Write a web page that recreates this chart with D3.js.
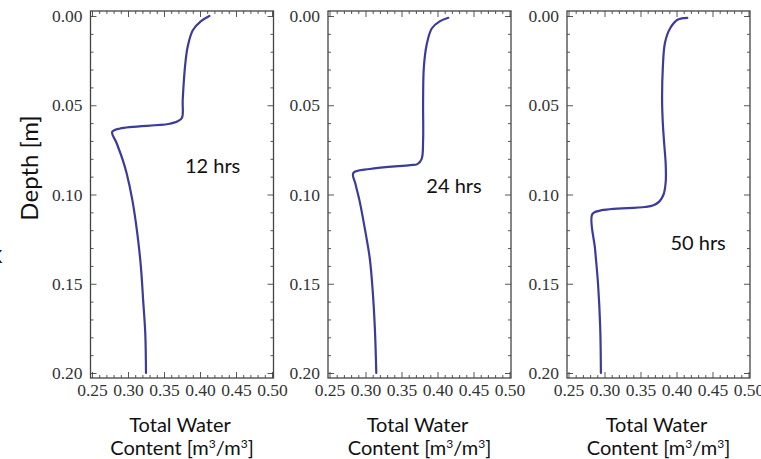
<!DOCTYPE html>
<html>
<head>
<meta charset="utf-8">
<script src="https://cdn.jsdelivr.net/npm/d3@7"></script>
<style>
  body { margin: 0; background: #fff; }
  svg { display: block; }
</style>
</head>
<body>
<div id="chart"></div>
<script>
// water content profiles
const labels = ["12 hrs", "24 hrs", "50 hrs"]

const depth12 = [0.000, 0.003, 0.008, 0.017, 0.029, 0.047, 0.057, 0.059, 0.0605, 0.063, 0.065, 0.071, 0.081, 0.088, 0.103, 0.122, 0.141, 0.159, 0.178, 0.200]
const theta12 = [0.413, 0.401, 0.390, 0.383, 0.379, 0.376, 0.375, 0.369, 0.356, 0.289, 0.278, 0.284, 0.293, 0.298, 0.306, 0.313, 0.318, 0.321, 0.324, 0.325]

const depth24 = [0.001, 0.003, 0.007, 0.016, 0.029, 0.048, 0.070, 0.080, 0.083, 0.0835, 0.0857, 0.088, 0.094, 0.104, 0.119, 0.136, 0.154, 0.175, 0.200]
const theta24 = [0.415, 0.403, 0.392, 0.385, 0.381, 0.380, 0.380, 0.378, 0.372, 0.362, 0.306, 0.283, 0.286, 0.292, 0.299, 0.306, 0.310, 0.313, 0.315]

const depth50 = [0.001, 0.002, 0.007, 0.015, 0.029, 0.047, 0.060, 0.072, 0.083, 0.093, 0.100, 0.104, 0.106, 0.107, 0.109, 0.111, 0.131, 0.150, 0.174, 0.200]
const theta50 = [0.415, 0.402, 0.391, 0.384, 0.381, 0.380, 0.381, 0.383, 0.385, 0.385, 0.382, 0.376, 0.368, 0.356, 0.294, 0.283, 0.287, 0.291, 0.294, 0.295]

const xTicks = [0.25, 0.30, 0.35, 0.40, 0.45, 0.50]
const yTicks = [0.00, 0.05, 0.10, 0.15, 0.20]

const series = [
    { depth: depth12, theta: theta12, label: labels[0] },
    { depth: depth24, theta: theta24, label: labels[1] },
    { depth: depth50, theta: theta50, label: labels[2] }
]

const width = 761, height = 459
const panelLeft = [90.5, 328, 567]
const panelW = 183, panelTop = 11, panelH = 367
// where the label sits inside each panel (data units)
const labelPos = [[0.4175, 0.088], [0.423, 0.099], [0.43, 0.131]]

const svg = d3.select("#chart")
    .append("svg")
    .attr("width", width)
    .attr("height", height)

const minorX = d3.range(0.25, 0.5001, 0.01).filter(v => Math.abs(v * 20 - Math.round(v * 20)) > 1e-6)
const minorY = d3.range(0, 0.2001, 0.01).filter(v => Math.abs(v * 20 - Math.round(v * 20)) > 1e-6)

series.forEach(function (s, i) {
    const g = svg.append("g")
        .attr("transform", `translate(${panelLeft[i]},${panelTop})`)

    const x = d3.scaleLinear().domain([0.25, 0.50]).range([1.5, panelW - 1.5])
    const y = d3.scaleLinear().domain([0, 0.20]).range([5, panelH - 5])

    // ticks, pointing inward on every side
    const addAxis = function (axis, tx, ty, cls) {
        const a = g.append("g")
            .attr("class", cls)
            .attr("transform", `translate(${tx},${ty})`)
            .call(axis)
        a.select(".domain").remove()
        a.selectAll("line").attr("stroke", "#444").attr("stroke-width", 0.9)
        a.selectAll("text")
            .style("font-family", "'Liberation Serif', 'Times New Roman', serif")
            .style("font-size", "17.5px")
            .attr("fill", "#333")
        return a
    }

    addAxis(d3.axisBottom(x).tickValues(xTicks).tickSize(-6).tickPadding(6).tickFormat(d3.format(".2f")), 0, panelH, "xb")
    addAxis(d3.axisBottom(x).tickValues(minorX).tickSize(-3).tickFormat(""), 0, panelH, "xbm")
    addAxis(d3.axisTop(x).tickValues(xTicks).tickSize(-6).tickFormat(""), 0, 0, "xt")
    addAxis(d3.axisTop(x).tickValues(minorX).tickSize(-3).tickFormat(""), 0, 0, "xtm")
    addAxis(d3.axisLeft(y).tickValues(yTicks).tickSize(-6).tickPadding(8).tickFormat(d3.format(".2f")), 0, 0, "yl")
    addAxis(d3.axisLeft(y).tickValues(minorY).tickSize(-3).tickFormat(""), 0, 0, "ylm")
    addAxis(d3.axisRight(y).tickValues(yTicks).tickSize(-6).tickFormat(""), panelW, 0, "yr")
    addAxis(d3.axisRight(y).tickValues(minorY).tickSize(-3).tickFormat(""), panelW, 0, "yrm")

    // frame
    g.append("rect")
        .attr("width", panelW)
        .attr("height", panelH)
        .attr("fill", "none")
        .attr("stroke", "#444")
        .attr("stroke-width", 1.3)

    const pts = s.depth.map((d, k) => [s.theta[k], d])
    const line = d3.line()
        .x(d => x(d[0]))
        .y(d => y(d[1]))
        .curve(d3.curveCatmullRom.alpha(0.5))

    g.append("path")
        .datum(pts)
        .attr("d", line)
        .attr("fill", "none")
        .attr("stroke", "#3b3b9b")
        .attr("stroke-width", 2.2)
        .attr("stroke-linejoin", "round")
        .attr("stroke-linecap", "round")

    g.append("text")
        .attr("x", x(labelPos[i][0]))
        .attr("y", y(labelPos[i][1]))
        .attr("text-anchor", "middle")
        .style("font-family", "Lato, 'Open Sans', sans-serif")
        .style("font-size", "20px")
        .attr("fill", "#111")
        .text(s.label)

    // x axis title under each panel
    const cx = panelW / 2 - 2
    g.append("text")
        .attr("x", cx)
        .attr("y", panelH + 54)
        .attr("text-anchor", "middle")
        .style("font-family", "Lato, 'Open Sans', sans-serif")
        .style("font-size", "20px")
        .attr("fill", "#111")
        .text("Total Water")

    const t2 = g.append("text")
        .attr("x", cx + 2)
        .attr("y", panelH + 77)
        .attr("text-anchor", "middle")
        .style("font-family", "Lato, 'Open Sans', sans-serif")
        .style("font-size", "20px")
        .attr("fill", "#111")
    t2.append("tspan").text("Content [m")
    t2.append("tspan").attr("dy", -7).style("font-size", "12px").text("3")
    t2.append("tspan").attr("dy", 7).text("/m")
    t2.append("tspan").attr("dy", -7).style("font-size", "12px").text("3")
    t2.append("tspan").attr("dy", 7).text("]")
})

// y axis title, first panel only
svg.append("text")
    .attr("transform", "translate(38,168) rotate(-90)")
    .attr("text-anchor", "middle")
    .style("font-family", "Lato, 'Open Sans', sans-serif")
    .style("font-size", "24px")
    .attr("fill", "#111")
    .text("Depth [m]")

// clipped glyph at the left edge of the original figure
svg.append("text")
    .attr("x", -9)
    .attr("y", 263)
    .style("font-family", "Lato, 'Open Sans', sans-serif")
    .style("font-size", "17px")
    .attr("fill", "#111")
    .text("K")
</script>
</body>
</html>
